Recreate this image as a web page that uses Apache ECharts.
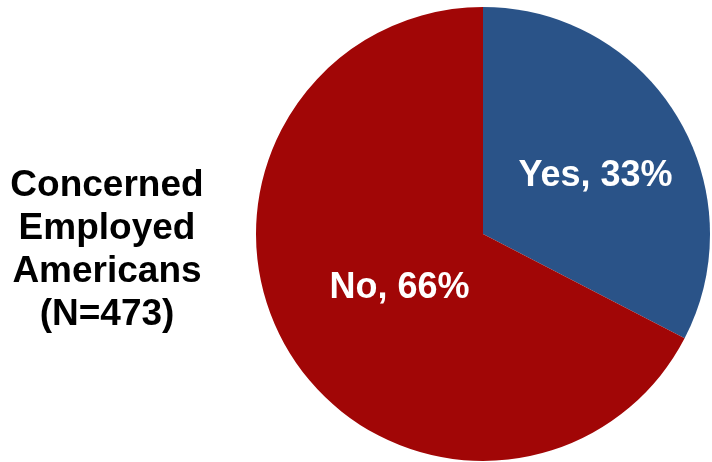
<!DOCTYPE html>
<html>
<head>
<meta charset="utf-8">
<script src="https://cdn.jsdelivr.net/npm/echarts@6/dist/echarts.min.js"></script>
<style>html,body{margin:0;padding:0;background:#fff}#c{width:712px;height:462px}</style>
</head>
<body>
<div id="c"></div>
<script>
var categories = ['Yes', 'No'];
var sliceValues = [32.6, 67.4];
var shownPercents = [33, 66];
var titleLines = ['Concerned', 'Employed', 'Americans', '(N=473)'];
var colors = ['#2A5388', '#A10606'];
var labelOffsets = [[13, 3], [16, -6]];

var chart = echarts.init(document.getElementById('c'), null, {renderer: 'canvas'});
var data = categories.map(function (c, i) {
  return {
    name: c,
    value: sliceValues[i],
    itemStyle: {color: colors[i]},
    label: {offset: labelOffsets[i]}
  };
});
chart.setOption({
  animation: false,
  title: {
    text: titleLines.join('\n'),
    left: 107,
    top: 164,
    textAlign: 'center',
    padding: 0,
    textStyle: {
      fontFamily: 'Liberation Sans, Arial, sans-serif',
      fontWeight: 'bold',
      fontSize: 37,
      lineHeight: 43,
      color: '#000',
      align: 'center'
    }
  },
  series: [{
    type: 'pie',
    center: [483, 234],
    radius: [0, 227],
    startAngle: 90,
    clockwise: true,
    data: data,
    label: {
      show: true,
      position: 'inside',
      color: '#fff',
      fontFamily: 'Liberation Sans, Arial, sans-serif',
      fontWeight: 'bold',
      fontSize: 36,
      formatter: function (p) {
        return p.name + ', ' + shownPercents[p.dataIndex] + '%';
      }
    },
    labelLine: {show: false},
    itemStyle: {borderWidth: 0},
    emphasis: {disabled: true}
  }]
});
</script>
</body>
</html>
